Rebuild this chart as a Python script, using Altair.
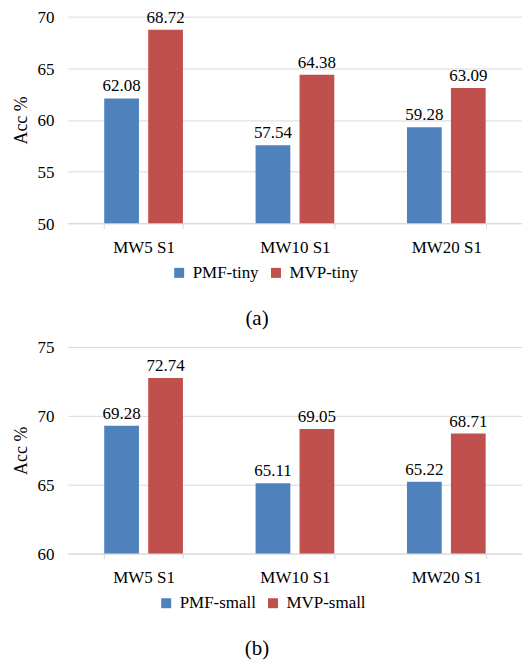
import altair as alt
import pandas as pd

categories = ["MW5 S1", "MW10 S1", "MW20 S1"]

series_a = ["PMF-tiny", "MVP-tiny"]
pmf_tiny = [62.08, 57.54, 59.28]
mvp_tiny = [68.72, 64.38, 63.09]

series_b = ["PMF-small", "MVP-small"]
pmf_small = [69.28, 65.11, 65.22]
mvp_small = [72.74, 69.05, 68.71]

colors = ["#4F81BD", "#C0504D"]
FONT = "Times New Roman, Liberation Serif, serif"


def make_df(series, vals1, vals2):
    rows = []
    for i, c in enumerate(categories):
        rows.append({"cat": c, "series": series[0], "val": vals1[i]})
        rows.append({"cat": c, "series": series[1], "val": vals2[i]})
    return pd.DataFrame(rows)


def panel(series, vals1, vals2, domain, caption, legend_x, legend_y):
    df = make_df(series, vals1, vals2)
    x = alt.X("cat:N", sort=categories, title=None,
              scale=alt.Scale(paddingInner=0.48, paddingOuter=0.24),
              axis=alt.Axis(labelAngle=0, tickBand="extent", ticks=True, tickSize=5,
                            tickColor="#d9d9d9", domainColor="#d9d9d9", labelPadding=11,
                            labelFontSize=17, labelFont=FONT, labelColor="#000000", grid=False))
    xo = alt.XOffset("series:N", sort=series, scale=alt.Scale(paddingInner=0.21, paddingOuter=0))
    y = alt.Y("val:Q", title="Acc %",
              scale=alt.Scale(domain=domain, zero=False, nice=False),
              axis=alt.Axis(values=list(range(domain[0], domain[1] + 1, 5)),
                            domain=False, ticks=False, labelPadding=14, labelOffset=1,
                            gridColor="#d9d9d9",
                            labelFontSize=17, labelFont=FONT, labelColor="#000000",
                            titleFontSize=18, titleFont=FONT, titleFontWeight="normal",
                            titleColor="#000000", titlePadding=6))
    color = alt.Color("series:N", sort=series,
                      scale=alt.Scale(domain=series, range=colors),
                      legend=alt.Legend(title=None, orient="none", direction="horizontal",
                                        legendX=legend_x, legendY=legend_y, padding=0,
                                        symbolType="square", symbolSize=100, symbolStrokeWidth=0,
                                        labelFontSize=17, labelFont=FONT, labelColor="#000000",
                                        labelOffset=5, columnPadding=8))
    base = alt.Chart(df).encode(x=x, xOffset=xo, y=y)
    bars = base.mark_bar().encode(y2=alt.datum(domain[0]), color=color)
    text = base.mark_text(baseline="alphabetic", dy=-7, font=FONT, fontSize=17, color="#000000").encode(
        text=alt.Text("val:Q", format=".2f"))
    return alt.layer(bars, text).properties(
        width=455, height=207,
        title=alt.TitleParams(caption, orient="bottom", font=FONT, fontSize=21, fontWeight="normal",
                              color="#000000", dx=-38, offset=27),
    )


pa = panel(series_a, pmf_tiny, mvp_tiny, [50, 70], "(a)", 103, 248)
pb = panel(series_b, pmf_small, mvp_small, [60, 75], "(b)", 90, 248)

chart = alt.vconcat(pa, pb, spacing=10).resolve_scale(
    color="independent", x="independent", y="independent", xOffset="independent"
).resolve_legend(color="independent").properties(
    padding={"left": 5, "top": 0, "right": 0, "bottom": 0}
).configure_view(stroke=None)

chart.save("out.html", embed_options={"renderer": "svg", "actions": False})
